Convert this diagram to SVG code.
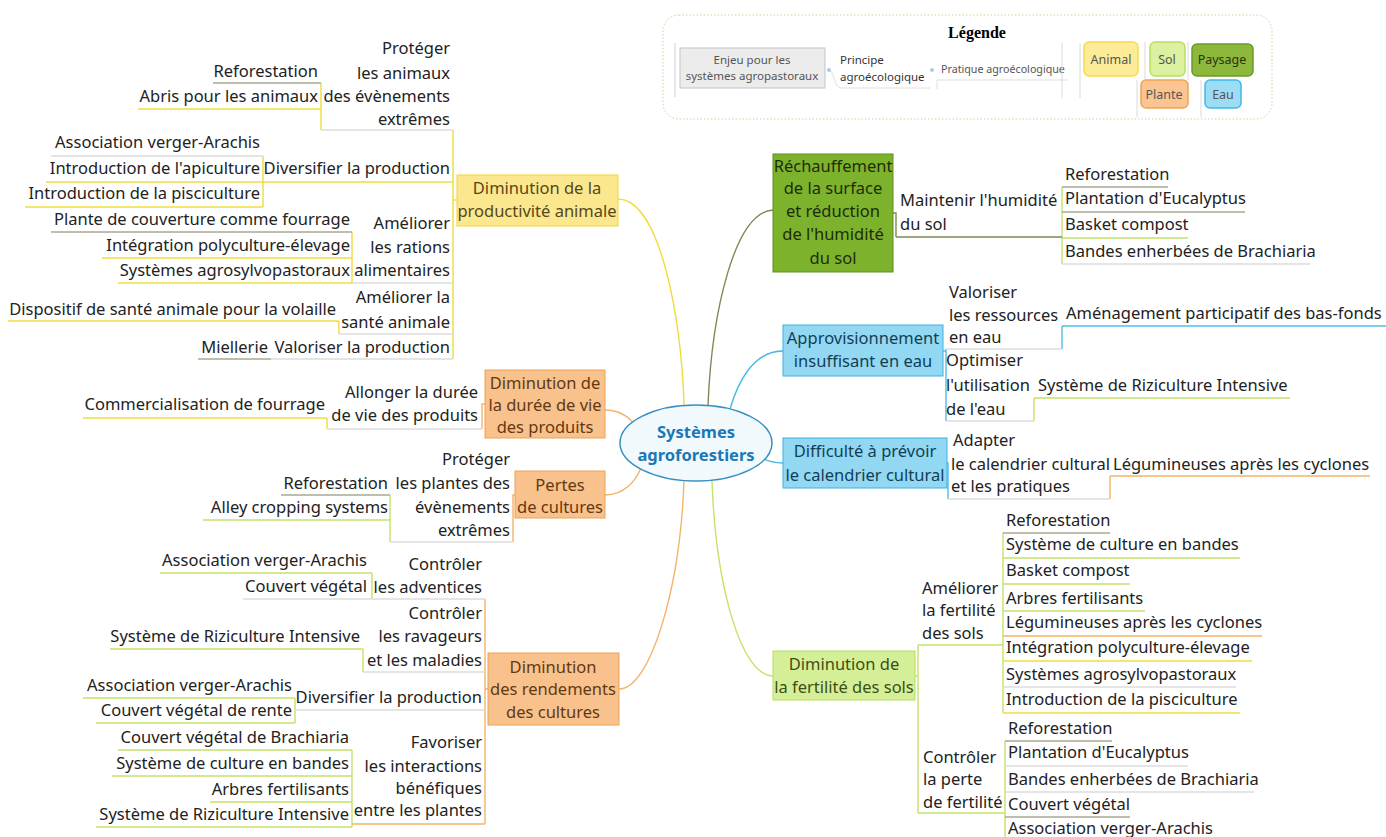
<svg xmlns="http://www.w3.org/2000/svg" width="1386" height="837" viewBox="0 0 1386 837">
<style>
.t{font-family:"Noto Sans","Open Sans",sans-serif;font-size:16.5px;fill:#222}
.e{text-anchor:end}
.m{text-anchor:middle}
.u{fill:none;stroke-width:1.4}
.Y{stroke:#f0dc3c}.G{stroke:#c5e26a}.P{stroke:#a9a892}.O{stroke:#f2b46a}.B{stroke:#52bde8}.W{stroke:#dcdcdc}.D{stroke:#7d8a55}
.c{fill:none;stroke-width:1.4}
.by{fill:#fbe88e;stroke:#f3d637}.bo{fill:#f9c18c;stroke:#eda255}.bd{fill:#7db32c;stroke:#5f8f1f}.bb{fill:#92d8f3;stroke:#3cb2e2}.bg{fill:#d5ef98;stroke:#b6dd58}
.ty{fill:#57471a}.to{fill:#613a12}.td{fill:#1e2c0a}.tb{fill:#123e55}.tg{fill:#3d4f12}
.lg{font-family:"Noto Sans","Open Sans",sans-serif;font-size:11.5px;fill:#555}
</style>
<rect width="1386" height="837" fill="#ffffff"/>

<!-- Legend -->
<g id="legende">
<rect x="663" y="15" width="609" height="104" rx="16" fill="none" stroke="#d6cc9a" stroke-dasharray="1.5,2"/>
<text x="977" y="38" text-anchor="middle" font-family="Liberation Serif,serif" font-weight="bold" font-size="16" fill="#000">Légende</text>
<line x1="675" y1="43" x2="675" y2="97" stroke="#cfcfcf"/>
<rect x="680" y="48" width="145" height="40" fill="#ececec" stroke="#c4c4c4"/>
<text class="lg m" x="752" y="64">Enjeu pour les</text>
<text class="lg m" x="752" y="80">systèmes agropastoraux</text>
<path d="M829,70 C834,70 834,88 841,88 L930,88" fill="none" stroke="#dedede"/>
<circle cx="829" cy="70" r="2" fill="#a9cbe6"/>
<text class="lg" x="840" y="64" style="fill:#333">Principe</text>
<text class="lg" x="840" y="81" style="fill:#333">agroécologique</text>
<circle cx="932" cy="70" r="2" fill="#a9cbe6"/>
<text class="lg" x="941" y="73" style="font-size:10.7px">Pratique agroécologique</text>
<path d="M937,89 L937,80 L1068,80" fill="none" stroke="#dedede"/>
<line x1="1062" y1="43" x2="1062" y2="98" stroke="#dadada"/>
<line x1="1080" y1="43" x2="1080" y2="98" stroke="#dadada"/>
<line x1="1145" y1="42" x2="1145" y2="80" stroke="#dadada"/>
<line x1="1188" y1="42" x2="1188" y2="80" stroke="#dadada"/>
<line x1="1137" y1="80" x2="1137" y2="117" stroke="#dadada"/>
<line x1="1201" y1="80" x2="1201" y2="117" stroke="#dadada"/>
<rect x="1084" y="42" width="54" height="34" rx="5" fill="#fcec98" stroke="#f4dc50" stroke-width="1.5"/>
<text class="lg m" x="1111" y="64" style="font-size:12.5px">Animal</text>
<rect x="1150" y="42" width="35" height="34" rx="5" fill="#dbf19f" stroke="#b9e062" stroke-width="1.5"/>
<text class="lg m" x="1167" y="64" style="font-size:12.5px">Sol</text>
<rect x="1192" y="44" width="61" height="32" rx="5" fill="#8cb83c" stroke="#6a9a28" stroke-width="1.5"/>
<text class="lg m" x="1222" y="64" style="font-size:12.5px;fill:#2a3510">Paysage</text>
<rect x="1141" y="80" width="47" height="28" rx="5" fill="#fbc592" stroke="#f0a452" stroke-width="1.5"/>
<text class="lg m" x="1164" y="99" style="font-size:12.5px">Plante</text>
<rect x="1205" y="80" width="36" height="28" rx="5" fill="#9cdcf5" stroke="#42b8e8" stroke-width="1.5"/>
<text class="lg m" x="1223" y="99" style="font-size:12.5px">Eau</text>
</g>

<!-- Connectors -->
<g id="connectors">
<path class="c" stroke="#f0dc3c" d="M618,199 C660,199 682,320 684,406"/>
<path class="c" stroke="#7d8a55" d="M773,210 C735,212 712,310 708,405"/>
<path class="c" stroke="#4ab8e4" d="M783,351 C752,351 737,385 730,409"/>
<path class="c" stroke="#4ab8e4" d="M783,463 C772,463 764,460 758,456"/>
<path class="c" stroke="#c5e26a" d="M712,481 C716,590 742,676 773,676"/>
<path class="c" stroke="#f2b46a" d="M684,481 C680,590 650,689 619,689"/>
<path class="c" stroke="#f2b46a" d="M605,410 C620,410 630,418 636,426"/>
<path class="c" stroke="#f2b46a" d="M605,495 C625,495 636,480 641,468"/>
<path class="c" stroke="#f0dc3c" d="M457,200 L453,200 M453,130 L453,359"/>
<line class="c Y" x1="321" y1="83" x2="321" y2="130"/>
<line class="c Y" x1="263" y1="156" x2="263" y2="207"/>
<line class="c Y" x1="352" y1="232" x2="352" y2="283"/>
<line class="c Y" x1="339" y1="321" x2="339" y2="334"/>
<path class="c O" d="M485,404 L482,404 L482,429"/>
<line class="c Y" x1="327" y1="418" x2="327" y2="429"/>
<path class="c O" d="M515,495 L513,495 L513,542"/>
<line class="c G" x1="390" y1="495" x2="390" y2="542"/>
<path class="c O" d="M488,689 L485,689 M485,599 L485,824"/>
<line class="c G" x1="372" y1="573" x2="372" y2="599"/>
<line class="c G" x1="363" y1="649" x2="363" y2="672"/>
<line class="c G" x1="295" y1="698" x2="295" y2="723"/>
<line class="c G" x1="352" y1="750" x2="352" y2="827"/>
<path class="c D" d="M893,213 L896,213 L896,237"/>
<line class="c G" x1="1062" y1="187" x2="1062" y2="264"/>
<path class="c B" d="M943,351 L946,351 M946,349 L946,421"/>
<line class="c B" x1="1062" y1="326" x2="1062" y2="349"/>
<line class="c G" x1="1034" y1="398" x2="1034" y2="421"/>
<path class="c B" d="M947,463 L948,463 L948,499"/>
<line class="c O" x1="1110" y1="476" x2="1110" y2="499"/>
<path class="c G" d="M915,676 L918,676 M918,645 L918,813"/>
<line class="c G" x1="1003" y1="533" x2="1003" y2="713"/>
<line class="c G" x1="1005" y1="741" x2="1005" y2="837"/>
</g>

<!-- Center -->
<g id="center">
<ellipse cx="696" cy="443" rx="76" ry="38" fill="#f2f9fd" stroke="#3a90c2" stroke-width="1.5"/>
<text x="696" y="438" text-anchor="middle" font-family="Noto Sans,Open Sans,sans-serif" font-weight="bold" font-size="16.5" fill="#1b78b6">Systèmes</text>
<text x="696" y="461" text-anchor="middle" font-family="Noto Sans,Open Sans,sans-serif" font-weight="bold" font-size="16.5" fill="#1b78b6">agroforestiers</text>
</g>

<!-- Node 1 -->
<g id="n1">
<rect class="by" x="457" y="175" width="161" height="51"/>
<text class="t m ty" x="537" y="194">Diminution de la</text>
<text class="t m ty" x="537" y="217">productivité animale</text>
</g>
<g id="n1-p1">
<text class="t e" x="450" y="54">Protéger</text>
<text class="t e" x="450" y="79">les animaux</text>
<text class="t e" x="450" y="102">des évènements</text>
<text class="t e" x="450" y="125">extrêmes</text>
<line class="u W" x1="321" y1="130" x2="453" y2="130"/>
<text class="t e" x="318" y="77">Reforestation</text>
<line class="u P" x1="213" y1="83" x2="321" y2="83"/>
<text class="t e" x="318" y="102">Abris pour les animaux</text>
<line class="u Y" x1="138" y1="109" x2="321" y2="109"/>
</g>
<g id="n1-p2">
<text class="t e" x="450" y="174">Diversifier la production</text>
<line class="u Y" x1="263" y1="182" x2="453" y2="182"/>
<text class="t e" x="260" y="148">Association verger-Arachis</text>
<line class="u W" x1="51" y1="156" x2="263" y2="156"/>
<text class="t e" x="260" y="174">Introduction de l'apiculture</text>
<line class="u Y" x1="46" y1="182" x2="263" y2="182"/>
<text class="t e" x="260" y="199">Introduction de la pisciculture</text>
<line class="u Y" x1="25" y1="207" x2="263" y2="207"/>
</g>
<g id="n1-p3">
<text class="t e" x="450" y="229">Améliorer</text>
<text class="t e" x="450" y="253">les rations</text>
<text class="t e" x="450" y="276">alimentaires</text>
<line class="u W" x1="352" y1="283" x2="453" y2="283"/>
<text class="t e" x="350" y="225">Plante de couverture comme fourrage</text>
<line class="u P" x1="51" y1="232" x2="352" y2="232"/>
<text class="t e" x="350" y="251">Intégration polyculture-élevage</text>
<line class="u Y" x1="102" y1="258" x2="352" y2="258"/>
<text class="t e" x="350" y="276">Systèmes agrosylvopastoraux</text>
<line class="u Y" x1="118" y1="283" x2="352" y2="283"/>
</g>
<g id="n1-p4">
<text class="t e" x="450" y="303">Améliorer la</text>
<text class="t e" x="450" y="328">santé animale</text>
<line class="u W" x1="339" y1="334" x2="453" y2="334"/>
<text class="t e" x="336" y="315">Dispositif de santé animale pour la volaille</text>
<line class="u Y" x1="8" y1="321" x2="339" y2="321"/>
</g>
<g id="n1-p5">
<text class="t e" x="450" y="353">Valoriser la production</text>
<line class="u W" x1="271" y1="359" x2="453" y2="359"/>
<text class="t e" x="268" y="353">Miellerie</text>
<line class="u P" x1="198" y1="359" x2="271" y2="359"/>
</g>

<!-- Node 2 -->
<g id="n2">
<rect class="bo" x="485" y="370" width="120" height="68"/>
<text class="t m to" x="545" y="389">Diminution de</text>
<text class="t m to" x="545" y="411">la durée de vie</text>
<text class="t m to" x="545" y="433">des produits</text>
</g>
<g id="n2-p1">
<text class="t e" x="478" y="398">Allonger la durée</text>
<text class="t e" x="478" y="421">de vie des produits</text>
<line class="u W" x1="327" y1="429" x2="482" y2="429"/>
<text class="t e" x="325" y="410">Commercialisation de fourrage</text>
<line class="u Y" x1="83" y1="418" x2="327" y2="418"/>
</g>

<!-- Node 3 -->
<g id="n3">
<rect class="bo" x="515" y="471" width="90" height="47"/>
<text class="t m to" x="560" y="491">Pertes</text>
<text class="t m to" x="560" y="513">de cultures</text>
</g>
<g id="n3-p1">
<text class="t e" x="510" y="465">Protéger</text>
<text class="t e" x="510" y="489">les plantes des</text>
<text class="t e" x="510" y="513">évènements</text>
<text class="t e" x="510" y="536">extrêmes</text>
<line class="u W" x1="390" y1="542" x2="513" y2="542"/>
<text class="t e" x="388" y="489">Reforestation</text>
<line class="u P" x1="281" y1="495" x2="390" y2="495"/>
<text class="t e" x="388" y="513">Alley cropping systems</text>
<line class="u G" x1="203" y1="520" x2="390" y2="520"/>
</g>

<!-- Node 4 -->
<g id="n4">
<rect class="bo" x="488" y="653" width="131" height="72"/>
<text class="t m to" x="553" y="673">Diminution</text>
<text class="t m to" x="553" y="695">des rendements</text>
<text class="t m to" x="553" y="718">des cultures</text>
</g>
<g id="n4-p1">
<text class="t e" x="482" y="570">Contrôler</text>
<text class="t e" x="482" y="593">les adventices</text>
<line class="u W" x1="372" y1="599" x2="485" y2="599"/>
<text class="t e" x="367" y="566">Association verger-Arachis</text>
<line class="u G" x1="160" y1="573" x2="372" y2="573"/>
<text class="t e" x="367" y="592">Couvert végétal</text>
<line class="u W" x1="243" y1="599" x2="372" y2="599"/>
</g>
<g id="n4-p2">
<text class="t e" x="482" y="619">Contrôler</text>
<text class="t e" x="482" y="642">les ravageurs</text>
<text class="t e" x="482" y="666">et les maladies</text>
<line class="u W" x1="363" y1="672" x2="485" y2="672"/>
<text class="t e" x="360" y="642">Système de Riziculture Intensive</text>
<line class="u G" x1="110" y1="649" x2="363" y2="649"/>
</g>
<g id="n4-p3">
<text class="t e" x="482" y="703">Diversifier la production</text>
<line class="u W" x1="295" y1="710" x2="485" y2="710"/>
<text class="t e" x="292" y="691">Association verger-Arachis</text>
<line class="u G" x1="83" y1="698" x2="295" y2="698"/>
<text class="t e" x="292" y="716">Couvert végétal de rente</text>
<line class="u G" x1="96" y1="723" x2="295" y2="723"/>
</g>
<g id="n4-p4">
<text class="t e" x="482" y="748">Favoriser</text>
<text class="t e" x="482" y="772">les interactions</text>
<text class="t e" x="482" y="794">bénéfiques</text>
<text class="t e" x="482" y="816">entre les plantes</text>
<line class="u O" x1="352" y1="824" x2="485" y2="824"/>
<text class="t e" x="349" y="743">Couvert végétal de Brachiaria</text>
<line class="u G" x1="118" y1="750" x2="352" y2="750"/>
<text class="t e" x="349" y="769">Système de culture en bandes</text>
<line class="u G" x1="112" y1="776" x2="352" y2="776"/>
<text class="t e" x="349" y="795">Arbres fertilisants</text>
<line class="u G" x1="210" y1="802" x2="352" y2="802"/>
<text class="t e" x="349" y="820">Système de Riziculture Intensive</text>
<line class="u G" x1="96" y1="827" x2="352" y2="827"/>
</g>

<!-- Node 5 -->
<g id="n5">
<rect class="bd" x="773" y="154" width="120" height="118"/>
<text class="t m td" x="833" y="172">Réchauffement</text>
<text class="t m td" x="833" y="194">de la surface</text>
<text class="t m td" x="833" y="217">et réduction</text>
<text class="t m td" x="833" y="240">de l'humidité</text>
<text class="t m td" x="833" y="264">du sol</text>
</g>
<g id="n5-p1">
<text class="t" x="900" y="206">Maintenir l'humidité</text>
<text class="t" x="900" y="230">du sol</text>
<line class="u D" x1="896" y1="237" x2="1062" y2="237"/>
<text class="t" x="1065" y="180">Reforestation</text>
<line class="u P" x1="1062" y1="187" x2="1168" y2="187"/>
<text class="t" x="1065" y="204">Plantation d'Eucalyptus</text>
<line class="u P" x1="1062" y1="212" x2="1245" y2="212"/>
<text class="t" x="1065" y="230">Basket compost</text>
<line class="u G" x1="1062" y1="238" x2="1188" y2="238"/>
<text class="t" x="1065" y="257">Bandes enherbées de Brachiaria</text>
<line class="u W" x1="1062" y1="264" x2="1310" y2="264"/>
</g>

<!-- Node 6 -->
<g id="n6">
<rect class="bb" x="783" y="325" width="160" height="51"/>
<text class="t m tb" x="863" y="344">Approvisionnement</text>
<text class="t m tb" x="863" y="367">insuffisant en eau</text>
</g>
<g id="n6-p1">
<text class="t" x="949" y="298">Valoriser</text>
<text class="t" x="949" y="321">les ressources</text>
<text class="t" x="949" y="343">en eau</text>
<line class="u W" x1="946" y1="349" x2="1062" y2="349"/>
<text class="t" x="1066" y="319">Aménagement participatif des bas-fonds</text>
<line class="u B" x1="1062" y1="326" x2="1386" y2="326"/>
</g>
<g id="n6-p2">
<text class="t" x="946" y="366">Optimiser</text>
<text class="t" x="946" y="391">l'utilisation</text>
<text class="t" x="946" y="415">de l'eau</text>
<line class="u W" x1="946" y1="421" x2="1034" y2="421"/>
<text class="t" x="1038" y="391">Système de Riziculture Intensive</text>
<line class="u G" x1="1034" y1="398" x2="1290" y2="398"/>
</g>

<!-- Node 7 -->
<g id="n7">
<rect class="bb" x="783" y="438" width="164" height="50"/>
<text class="t m tb" x="865" y="457">Difficulté à prévoir</text>
<text class="t m tb" x="865" y="481">le calendrier cultural</text>
</g>
<g id="n7-p1">
<text class="t" x="953" y="446">Adapter</text>
<text class="t" x="951" y="470">le calendrier cultural</text>
<text class="t" x="951" y="492">et les pratiques</text>
<line class="u W" x1="948" y1="499" x2="1110" y2="499"/>
<text class="t" x="1113" y="470">Légumineuses après les cyclones</text>
<line class="u O" x1="1110" y1="476" x2="1370" y2="476"/>
</g>

<!-- Node 8 -->
<g id="n8">
<rect class="bg" x="773" y="651" width="142" height="49"/>
<text class="t m tg" x="844" y="670">Diminution de</text>
<text class="t m tg" x="844" y="693">la fertilité des sols</text>
</g>
<g id="n8-p1">
<text class="t" x="922" y="594">Améliorer</text>
<text class="t" x="922" y="616">la fertilité</text>
<text class="t" x="922" y="639">des sols</text>
<line class="u G" x1="918" y1="645" x2="1003" y2="645"/>
<text class="t" x="1006" y="526">Reforestation</text>
<line class="u P" x1="1003" y1="533" x2="1110" y2="533"/>
<text class="t" x="1006" y="550">Système de culture en bandes</text>
<line class="u G" x1="1003" y1="558" x2="1240" y2="558"/>
<text class="t" x="1006" y="576">Basket compost</text>
<line class="u G" x1="1003" y1="584" x2="1130" y2="584"/>
<text class="t" x="1006" y="604">Arbres fertilisants</text>
<line class="u G" x1="1003" y1="611" x2="1145" y2="611"/>
<text class="t" x="1006" y="628">Légumineuses après les cyclones</text>
<line class="u O" x1="1003" y1="636" x2="1262" y2="636"/>
<text class="t" x="1006" y="653">Intégration polyculture-élevage</text>
<line class="u Y" x1="1003" y1="661" x2="1252" y2="661"/>
<text class="t" x="1006" y="680">Systèmes agrosylvopastoraux</text>
<line class="u W" x1="1003" y1="687" x2="1236" y2="687"/>
<text class="t" x="1006" y="705">Introduction de la pisciculture</text>
<line class="u Y" x1="1003" y1="713" x2="1240" y2="713"/>
</g>
<g id="n8-p2">
<text class="t" x="923" y="763">Contrôler</text>
<text class="t" x="923" y="785">la perte</text>
<text class="t" x="923" y="808">de fertilité</text>
<line class="u G" x1="918" y1="813" x2="1005" y2="813"/>
<text class="t" x="1008" y="734">Reforestation</text>
<line class="u P" x1="1005" y1="741" x2="1112" y2="741"/>
<text class="t" x="1008" y="758">Plantation d'Eucalyptus</text>
<line class="u W" x1="1005" y1="766" x2="1188" y2="766"/>
<text class="t" x="1008" y="785">Bandes enherbées de Brachiaria</text>
<line class="u W" x1="1005" y1="792" x2="1254" y2="792"/>
<text class="t" x="1008" y="810">Couvert végétal</text>
<line class="u P" x1="1005" y1="817" x2="1130" y2="817"/>
<text class="t" x="1008" y="834">Association verger-Arachis</text>
</g>
</svg>
